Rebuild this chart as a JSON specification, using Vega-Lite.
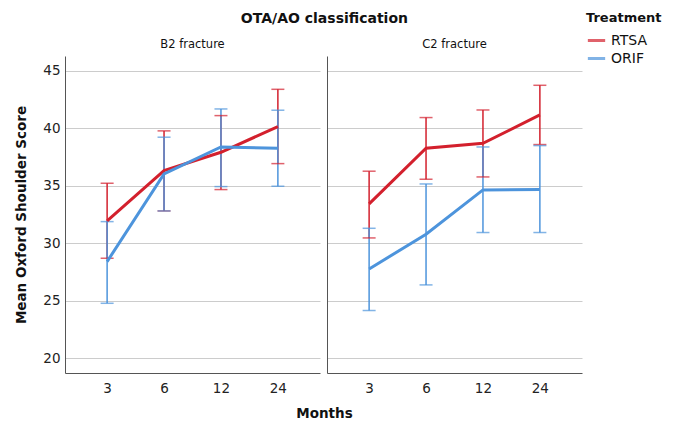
{
  "$schema": "https://vega.github.io/schema/vega-lite/v6.json",
  "background": "white",
  "padding": {"left": 14, "top": 12, "right": 5, "bottom": 5},
  "title": {"text": "OTA/AO classification", "fontSize": 14, "fontWeight": "bold", "font": "DejaVu Sans", "color": "#111111", "anchor": "middle", "offset": 12, "dx": -14, "dy": 26},
  "data": {"values": [
    {"fracture": "B2 fracture", "treatment": "RTSA", "month": 3, "mean": 31.94, "lower": 28.69, "upper": 35.22},
    {"fracture": "B2 fracture", "treatment": "RTSA", "month": 6, "mean": 36.32, "lower": 32.81, "upper": 39.78},
    {"fracture": "B2 fracture", "treatment": "RTSA", "month": 12, "mean": 37.92, "lower": 34.67, "upper": 41.11},
    {"fracture": "B2 fracture", "treatment": "RTSA", "month": 24, "mean": 40.15, "lower": 36.93, "upper": 43.4},
    {"fracture": "B2 fracture", "treatment": "ORIF", "month": 3, "mean": 28.4, "lower": 24.77, "upper": 31.88},
    {"fracture": "B2 fracture", "treatment": "ORIF", "month": 6, "mean": 36.03, "lower": 32.81, "upper": 39.23},
    {"fracture": "B2 fracture", "treatment": "ORIF", "month": 12, "mean": 38.38, "lower": 34.93, "upper": 41.69},
    {"fracture": "B2 fracture", "treatment": "ORIF", "month": 24, "mean": 38.27, "lower": 34.96, "upper": 41.58},
    {"fracture": "C2 fracture", "treatment": "RTSA", "month": 3, "mean": 33.42, "lower": 30.46, "upper": 36.27},
    {"fracture": "C2 fracture", "treatment": "RTSA", "month": 6, "mean": 38.27, "lower": 35.57, "upper": 40.94},
    {"fracture": "C2 fracture", "treatment": "RTSA", "month": 12, "mean": 38.7, "lower": 35.77, "upper": 41.6},
    {"fracture": "C2 fracture", "treatment": "RTSA", "month": 24, "mean": 41.17, "lower": 38.59, "upper": 43.75},
    {"fracture": "C2 fracture", "treatment": "ORIF", "month": 3, "mean": 27.76, "lower": 24.14, "upper": 31.3},
    {"fracture": "C2 fracture", "treatment": "ORIF", "month": 6, "mean": 30.78, "lower": 26.37, "upper": 35.16},
    {"fracture": "C2 fracture", "treatment": "ORIF", "month": 12, "mean": 34.64, "lower": 30.93, "upper": 38.38},
    {"fracture": "C2 fracture", "treatment": "ORIF", "month": 24, "mean": 34.67, "lower": 30.93, "upper": 38.5}
  ]},
  "spacing": 7,
  "bounds": "flush",
  "hconcat": [
    {
      "width": 255, "height": 317,
      "title": {"text": "B2 fracture", "fontSize": 11.5, "fontWeight": "normal", "offset": 6, "anchor": "middle"},
      "transform": [{"filter": "datum.fracture === 'B2 fracture'"}],
      "encoding": {
        "x": {"field": "month", "type": "ordinal", "sort": [3, 6, 12, 24], "scale": {"type": "point", "padding": 0.74},
              "axis": {"title": "Months", "titleX": 259, "titlePadding": 12}},
        "color": {"field": "treatment", "type": "nominal", "scale": {"domain": ["RTSA", "ORIF"], "range": ["#d3202d", "#4d94dc"]},
                  "legend": {"title": "Treatment", "orient": "none", "legendX": 521, "legendY": -44}}
      },
      "layer": [
        {"mark": {"type": "rule", "strokeWidth": 1.5},
         "encoding": {"y": {"field": "lower", "type": "quantitative", "scale": {"domain": [18.7, 46.3], "nice": false, "zero": false},
                            "axis": {"title": "Mean Oxford Shoulder Score", "values": [20, 25, 30, 35, 40, 45], "titlePadding": 14}},
                      "y2": {"field": "upper"}}},
        {"mark": {"type": "tick", "orient": "horizontal", "size": 13, "thickness": 1.5},
         "encoding": {"y": {"field": "lower", "type": "quantitative"}}},
        {"mark": {"type": "tick", "orient": "horizontal", "size": 13, "thickness": 1.5},
         "encoding": {"y": {"field": "upper", "type": "quantitative"}}},
        {"mark": {"type": "line", "strokeWidth": 3},
         "encoding": {"y": {"field": "mean", "type": "quantitative"}}}
      ]
    },
    {
      "width": 255, "height": 317,
      "title": {"text": "C2 fracture", "fontSize": 11.5, "fontWeight": "normal", "offset": 6, "anchor": "middle"},
      "transform": [{"filter": "datum.fracture === 'C2 fracture'"}],
      "encoding": {
        "x": {"field": "month", "type": "ordinal", "sort": [3, 6, 12, 24], "scale": {"type": "point", "padding": 0.74},
              "axis": {"title": null}},
        "color": {"field": "treatment", "type": "nominal", "scale": {"domain": ["RTSA", "ORIF"], "range": ["#d3202d", "#4d94dc"]},
                  "legend": {"title": "Treatment", "orient": "none", "legendX": 521, "legendY": -44}}
      },
      "layer": [
        {"mark": {"type": "rule", "strokeWidth": 1.5},
         "encoding": {"y": {"field": "lower", "type": "quantitative", "scale": {"domain": [18.7, 46.3], "nice": false, "zero": false},
                            "axis": {"title": null, "labels": false, "values": [20, 25, 30, 35, 40, 45]}},
                      "y2": {"field": "upper"}}},
        {"mark": {"type": "tick", "orient": "horizontal", "size": 13, "thickness": 1.5},
         "encoding": {"y": {"field": "lower", "type": "quantitative"}}},
        {"mark": {"type": "tick", "orient": "horizontal", "size": 13, "thickness": 1.5},
         "encoding": {"y": {"field": "upper", "type": "quantitative"}}},
        {"mark": {"type": "line", "strokeWidth": 3},
         "encoding": {"y": {"field": "mean", "type": "quantitative"}}}
      ]
    }
  ],
  "resolve": {"scale": {"color": "shared"}},
  "config": {
    "font": "DejaVu Sans",
    "view": {"stroke": null},
    "title": {"color": "#111111"},
    "axis": {"labelFontSize": 13.5, "labelColor": "#222222", "titleFontSize": 13.5, "titleFontWeight": "bold", "titleColor": "#111111",
             "ticks": false, "domainColor": "#555555", "domainWidth": 1, "gridColor": "#cccccc", "gridWidth": 1, "labelPadding": 5},
    "axisX": {"grid": false, "labelAngle": 0, "labelPadding": 8},
    "axisY": {"grid": true},
    "legend": {"symbolType": "stroke", "symbolStrokeWidth": 3, "symbolSize": 300, "labelFontSize": 14, "titleFontSize": 13,
               "titleFontWeight": "bold", "titleColor": "#111111", "labelColor": "#111111", "rowPadding": 0}
  }
}
